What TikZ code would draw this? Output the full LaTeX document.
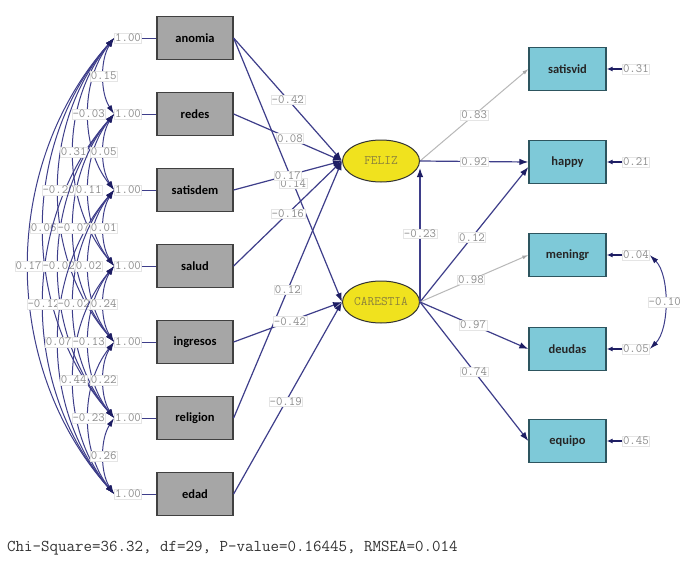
\documentclass[tikz,border=0pt]{standalone}
\usepackage{fontspec}
\newfontfamily\boxfont{Carlito}
\usetikzlibrary{arrows.meta,shapes.geometric}
\definecolor{navy}{RGB}{62,62,138}
\definecolor{navyd}{RGB}{30,30,100}
\definecolor{lgray}{RGB}{166,166,166}
\definecolor{cyanbox}{RGB}{126,201,216}
\definecolor{tealb}{RGB}{45,85,95}
\definecolor{yel}{RGB}{240,226,30}
\definecolor{olivet}{RGB}{140,130,60}
\tikzset{
  lbox/.style={draw=black!75, fill=lgray, line width=1.3pt, minimum width=76pt, minimum height=43pt, inner sep=0pt, font=\boxfont\bfseries\fontsize{12.5}{14}\selectfont},
  rbox/.style={draw=tealb, fill=cyanbox, line width=1.3pt, minimum width=77pt, minimum height=43pt, inner sep=0pt, font=\boxfont\bfseries\fontsize{12.5}{14}\selectfont, text=black!85},
  latent/.style={ellipse, draw=black!80, fill=yel, line width=1pt, minimum width=77pt, minimum height=42pt, inner sep=0pt, font=\ttfamily\fontsize{13}{13}\selectfont, text=olivet},
  valbox/.style={font=\ttfamily\fontsize{12.5}{12.5}\selectfont, text=black!45, fill=white, draw=black!10, line width=0.4pt, inner sep=0.8pt},
  regpath/.style={draw=navy, line width=1.2pt, -{Latex[length=9pt,width=6.5pt,color=navyd]}},
  fixpath/.style={draw=black!28, line width=1pt, -{Latex[length=6pt,width=4pt,color=black!35]}},
  covarc/.style={draw=navy, line width=1pt, {Latex[length=9pt,width=5.5pt,color=navyd]}-{Latex[length=9pt,width=5.5pt,color=navyd]}},
  errarrow/.style={draw=navyd, line width=1.3pt, -{Latex[length=6pt,width=5pt,color=navyd]}},
  varline/.style={draw=navy, line width=0.8pt}
}
\begin{document}
\begin{tikzpicture}[x=1pt,y=-1pt]
\useasboundingbox (0,0) rectangle (680,565);
\fill[white] (0,0) rectangle (680,565);

% exogenous observed variables
\foreach \i/\t in {1/anomia,2/redes,3/satisdem,4/salud,5/ingresos,6/religion,7/edad}{
  \pgfmathsetmacro{\yy}{38+76*(\i-1)}
  \node[lbox] (a\i) at (195,\yy) {\t};
  \node[valbox] (v\i) at (128,\yy) {1.00};
  \draw[varline] (v\i.east) -- (a\i.west);
}

% covariances among exogenous variables
\foreach \i/\j/\val in {1/7/0.17,1/6/0.06,2/7/-0.12,1/5/-0.20,2/6/-0.02,3/7/0.07,1/4/0.31,2/5/-0.07,3/6/-0.02,4/7/0.44,1/3/-0.03,2/4/0.11,3/5/0.02,4/6/-0.13,5/7/-0.23,1/2/0.15,2/3/0.05,3/4/0.01,4/5/0.24,5/6/0.22,6/7/0.26}{
  \pgfmathsetmacro{\dd}{\j-\i}
  \pgfmathsetmacro{\dx}{6-20*\dd}
  \pgfmathsetmacro{\hh}{21.3*\dd}
  \draw[covarc] (v\i.west) .. controls +(\dx,\hh) and +(\dx,-\hh) .. node[valbox,pos=0.5] {\val} (v\j.west);
}

% latent variables
\node[latent] (F) at (381,161) {FELIZ};
\node[latent] (C) at (381,302) {CARESTIA};

% structural paths
\draw[regpath] (a1.east) -- node[valbox,pos=0.5] {-0.42} (F.west);
\draw[regpath] (a2.east) -- node[valbox,pos=0.52] {0.08} (F.west);
\draw[regpath] (a1.east) -- node[valbox,pos=0.55] {0.14} (C.west);
\draw[regpath] (a3.east) -- node[valbox,pos=0.5] {0.17} (F.west);
\draw[regpath] (a4.east) -- node[valbox,pos=0.5] {-0.16} (F.west);
\draw[regpath] (a6.east) -- node[valbox,pos=0.5] {0.12} (F.west);
\draw[regpath] (a5.east) -- node[valbox,pos=0.52] {-0.42} (C.west);
\draw[regpath] (a7.east) -- node[valbox,pos=0.48] {-0.19} (C.west);
\draw[regpath] (C.east) -- node[valbox,pos=0.51] {-0.23} ([yshift=-7pt]F.east);

% endogenous observed variables
\foreach \k/\t/\yy/\e in {1/satisvid/69/0.31,2/happy/162/0.21,3/meningr/255/0.04,4/deudas/349/0.05,5/equipo/441/0.45}{
  \node[rbox] (r\k) at (567.5,\yy) {\t};
  \node[valbox, anchor=west] (e\k) at (622,\yy) {\e};
  \draw[errarrow] (e\k.west) -- (r\k.east);
}

% measurement paths
\draw[fixpath] (F.east) -- node[valbox,pos=0.5] {0.83} (r1.west);
\draw[regpath] (F.east) -- node[valbox,pos=0.5] {0.92} (r2.west);
\draw[regpath] (C.east) -- node[valbox,pos=0.48] {0.12} ([yshift=-5pt]r2.west);
\draw[fixpath] (C.east) -- node[valbox,pos=0.47] {0.98} (r3.west);
\draw[regpath] (C.east) -- node[valbox,pos=0.49] {0.97} (r4.west);
\draw[regpath] (C.east) -- node[valbox,pos=0.5] {0.74} (r5.west);

% error covariance
\draw[covarc] (e3.east) .. controls +(20,20) and +(20,-20) .. node[valbox,pos=0.5] {-0.10} (e4.east);

% fit statistics
\node[anchor=west, inner sep=0pt, font=\ttfamily\fontsize{16.5}{16.5}\selectfont, text=black!80] (fit) at (7,548) {Chi-Square=36.32, df=29, P-value=0.16445, RMSEA=0.014};
\end{tikzpicture}
\end{document}
